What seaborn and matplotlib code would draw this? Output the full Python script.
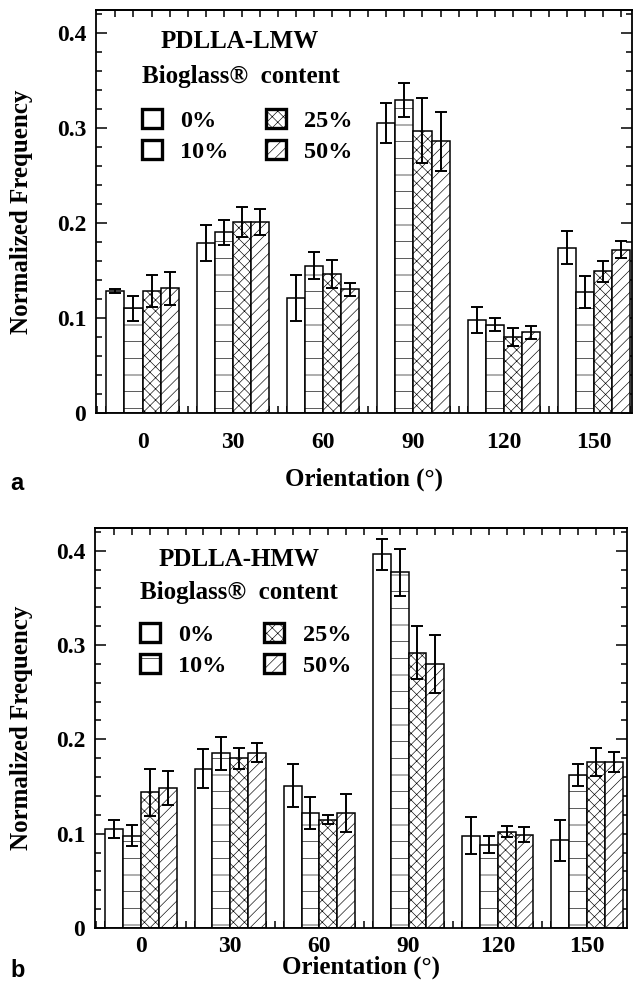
import numpy as np
import pandas as pd
import matplotlib
matplotlib.use("Agg")
import matplotlib.pyplot as plt
import seaborn as sns
from matplotlib.patches import Patch
from matplotlib.ticker import MultipleLocator, FuncFormatter, NullFormatter
from matplotlib.font_manager import FontProperties

# ---------------- data ----------------
orientations = ["0", "30", "60", "90", "120", "150"]
contents = ["0%", "10%", "25%", "50%"]

# PDLLA-LMW (panel a)
lmw_0 = [0.128, 0.179, 0.121, 0.305, 0.098, 0.174]
lmw_10 = [0.110, 0.190, 0.155, 0.329, 0.093, 0.127]
lmw_25 = [0.128, 0.201, 0.146, 0.297, 0.080, 0.149]
lmw_50 = [0.131, 0.201, 0.130, 0.286, 0.085, 0.172]
lmw_0_err = [0.002, 0.019, 0.024, 0.021, 0.014, 0.017]
lmw_10_err = [0.013, 0.013, 0.014, 0.018, 0.007, 0.017]
lmw_25_err = [0.017, 0.016, 0.015, 0.034, 0.009, 0.011]
lmw_50_err = [0.017, 0.014, 0.007, 0.031, 0.007, 0.009]

# PDLLA-HMW (panel b)
hmw_0 = [0.105, 0.169, 0.151, 0.396, 0.098, 0.093]
hmw_10 = [0.098, 0.185, 0.122, 0.377, 0.088, 0.162]
hmw_25 = [0.144, 0.180, 0.115, 0.292, 0.102, 0.176]
hmw_50 = [0.148, 0.186, 0.122, 0.280, 0.099, 0.176]
hmw_0_err = [0.010, 0.021, 0.023, 0.016, 0.020, 0.022]
hmw_10_err = [0.011, 0.017, 0.017, 0.025, 0.009, 0.012]
hmw_25_err = [0.025, 0.011, 0.005, 0.028, 0.006, 0.015]
hmw_50_err = [0.018, 0.010, 0.020, 0.031, 0.008, 0.011]

hatches = ["", "-", "xxx", "///"]

# ---------------- style ----------------
sns.set_theme(style="ticks")
plt.rcParams.update({
    "axes.edgecolor": "black",
    "xtick.color": "black",
    "ytick.color": "black",
    "text.color": "black",
    "axes.labelcolor": "black",
    "hatch.linewidth": 0.45,
    "hatch.color": "black",
    "font.weight": "bold",
    "axes.labelweight": "bold",
})
plt.rcParams["font.family"] = ["Liberation Serif", "DejaVu Serif"]

fig = plt.figure(figsize=(6.35, 9.94), dpi=100)


def make_df(series):
    rows = []
    for cont, vals in zip(contents, series):
        for ori, v in zip(orientations, vals):
            rows.append({"Orientation": ori, "Content": cont, "Frequency": v})
    return pd.DataFrame(rows)


def panel(rect, series, errs, name, xlim, tickpad, xlab_y, leg_top, txt_pos):
    ax = fig.add_axes(rect)
    df = make_df(series)
    sns.barplot(data=df, x="Orientation", y="Frequency", hue="Content",
                order=orientations, hue_order=contents,
                palette=["white"] * 4, saturation=1, edgecolor="black",
                linewidth=1.1, errorbar=None, width=0.8, legend=False, ax=ax)
    for cont, h, err in zip(ax.containers, hatches, errs):
        xs, ys = [], []
        for bar in cont:
            bar.set_hatch(h)
            xs.append(bar.get_x() + bar.get_width() / 2)
            ys.append(bar.get_height())
        ax.errorbar(xs, ys, yerr=err, fmt="none", ecolor="black",
                    elinewidth=1.4, capsize=4.5, capthick=1.4, zorder=5)

    ax.set_xlim(*xlim)
    ax.set_ylim(0, 0.424)
    ax.yaxis.set_major_locator(MultipleLocator(0.1))
    ax.yaxis.set_minor_locator(MultipleLocator(0.02))
    ax.yaxis.set_major_formatter(
        FuncFormatter(lambda v, p: "0" if abs(v) < 1e-9 else f"{v:.1f}"))
    ax.xaxis.set_minor_locator(MultipleLocator(0.1))
    ax.tick_params(axis="both", which="both", direction="in", width=1.1)
    ax.tick_params(axis="y", which="both", left=True, right=True)
    ax.tick_params(axis="y", which="major", length=8, pad=7)
    ax.tick_params(axis="y", which="minor", length=4)
    ax.tick_params(axis="x", which="both", bottom=True, top=False, length=5)
    ax.tick_params(axis="x", which="major", pad=tickpad)
    ax.tick_params(labelsize=17)
    for s in ax.spines.values():
        s.set_linewidth(1.3)
        s.set_color("black")

    sec = ax.secondary_xaxis("top")
    sec.set_xticks(np.arange(-0.3, 5.45, 0.2))
    sec.xaxis.set_major_formatter(NullFormatter())
    sec.tick_params(direction="in", length=5, width=1.1)
    sec.spines["top"].set_linewidth(1.3)

    ax.set_xlabel("Orientation (°)", fontsize=18, fontweight="bold")
    ax.set_ylabel("Normalized Frequency", fontsize=18, fontweight="bold")
    ax.xaxis.set_label_coords(0.5, xlab_y)
    ax.xaxis.label.set_va("top")
    ax.yaxis.set_label_coords(-0.117, 0.5)

    # annotations
    ax.text(txt_pos[0], txt_pos[1], name, transform=ax.transAxes,
            ha="center", va="center", fontsize=18, fontweight="bold")
    ax.text(txt_pos[2], txt_pos[3], "Bioglass®  content", transform=ax.transAxes,
            ha="left", va="center", fontsize=18, fontweight="bold")

    handles = [Patch(facecolor="white", edgecolor="black", linewidth=2.4, hatch=h)
               for h in hatches]
    ax.legend(handles, contents, ncol=2, loc="upper left",
              bbox_to_anchor=(txt_pos[2], leg_top), frameon=False,
              handlelength=0.82, handleheight=0.82, handletextpad=0.75,
              columnspacing=1.55, labelspacing=0.33, borderpad=0, borderaxespad=0,
              prop=FontProperties(family="Liberation Serif", weight="bold", size=17.5))
    return ax


ax1 = panel([96 / 635, 1 - 413 / 994, 536 / 635, 403 / 994],
            [lmw_0, lmw_10, lmw_25, lmw_50],
            [lmw_0_err, lmw_10_err, lmw_25_err, lmw_50_err],
            "PDLLA-LMW", (-0.515, 5.42), 14, -0.136, 0.755,
            (0.269, 0.921, 0.086, 0.834))

ax2 = panel([95 / 635, 1 - 928 / 994, 532 / 635, 400 / 994],
            [hmw_0, hmw_10, hmw_25, hmw_50],
            [hmw_0_err, hmw_10_err, hmw_25_err, hmw_50_err],
            "PDLLA-HMW", (-0.516, 5.45), 6, -0.07, 0.762,
            (0.271, 0.92, 0.085, 0.84))

fig.text(10 / 635, 1 - 490 / 994, "a", family="Liberation Sans",
         fontweight="bold", fontsize=17, va="baseline", ha="left")
fig.text(10 / 635, 1 - 977 / 994, "b", family="Liberation Sans",
         fontweight="bold", fontsize=17, va="baseline", ha="left")

fig.savefig("out.png", dpi=100)
